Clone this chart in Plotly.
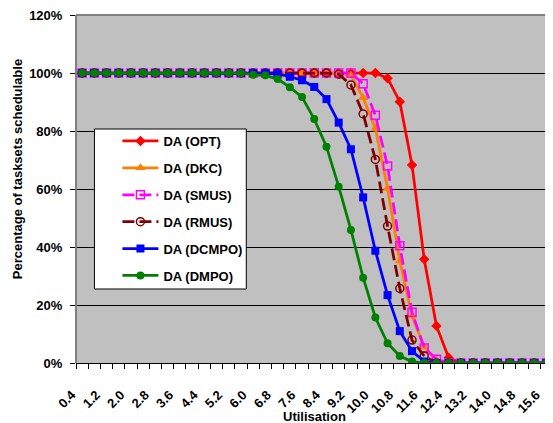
import plotly.graph_objects as go

utilisation = [round(0.4 + 0.4 * i, 1) for i in range(39)]
x_tick_labels = [f"{v:.1f}" for v in utilisation[::2]]

opt = [100] * 25 + [98.2, 90.1, 68.3, 35.8, 12.8, 1.8] + [0] * 8
dkc = [100] * 22 + [99.2, 91.5, 80.9, 60.2, 35.2, 16.2, 5.5, 1.0] + [0] * 9
smus = [100] * 23 + [96.3, 85.4, 67.9, 40.4, 17.5, 5.2, 1.3] + [0] * 9
rmus = [100] * 21 + [99.6, 95.9, 85.9, 70.2, 47.2, 25.7, 7.9, 2.4] + [0] * 10
dcmpo = [100] * 16 + [99.8, 98.7, 97.5, 95.2, 91.0, 82.9, 73.7, 57.1, 38.7, 23.4, 11.0, 4.1, 0.5] + [0] * 10
dmpo = [100] * 14 + [99.4, 99.2, 97.9, 95.1, 91.7, 84.1, 74.6, 60.8, 45.9, 29.4, 15.7, 6.8, 2.4, 0.5] + [0] * 11

y_ticks = [0, 20, 40, 60, 80, 100, 120]

series = [
    ("DA (OPT)", opt, "#FF0000", "diamond", "solid", 8),
    ("DA (DKC)", dkc, "#FF7F00", "triangle-up", "solid", 9),
    ("DA (SMUS)", smus, "#FF00FF", "square-open", "12px,5px", 8),
    ("DA (RMUS)", rmus, "#800000", "circle-open", "12px,5px", 8),
    ("DA (DCMPO)", dcmpo, "#0000FF", "square", "solid", 8),
    ("DA (DMPO)", dmpo, "#008000", "circle", "solid", 8),
]

fig = go.Figure()
for i, (name, vals, col, sym, dash, msize) in enumerate(series):
    fig.add_trace(go.Scatter(
        x=utilisation, y=vals, name=name, mode="lines+markers",
        line=dict(color=col, width=2.75, dash=dash),
        marker=dict(symbol=sym, size=msize, color=col,
                    line=dict(color=col, width=1.5 if "open" in sym else 0)),
        legendgroup=f"g{i}",
    ))

font_family = "Liberation Sans, Arial, sans-serif"
pad = "\u00a0" * 4  # trailing non-breaking spaces nudge the rotated labels like Excel's

# The page body adds an 8px margin, so the figure is 8px smaller than the window.
fig.update_layout(
    width=545, height=415,
    margin=dict(l=68, r=0, t=7, b=60),
    paper_bgcolor="white",
    plot_bgcolor="#C0C0C0",
    font=dict(family=font_family, size=13, color="black"),
    showlegend=True,
    legend=dict(
        x=0.0388, y=0.681, xanchor="left", yanchor="top",
        bgcolor="rgba(0,0,0,0)", borderwidth=0,
        font=dict(family=font_family, size=13, color="black", weight="bold"),
        itemwidth=36, tracegroupgap=7, traceorder="grouped",
        indentation=23,
    ),
    xaxis=dict(
        range=[0.2, 15.75],
        tickmode="array",
        tickvals=utilisation[::2],
        ticktext=[t + pad for t in x_tick_labels],
        tickangle=-45,
        ticks="outside", ticklen=8, tickcolor="rgba(0,0,0,0)",
        ticklabeloverflow="allow",
        tickfont=dict(family=font_family, size=13, color="black", weight="bold"),
        showgrid=False, zeroline=False,
        showline=True, linecolor="black", linewidth=1,
        minor=dict(tick0=0.2, dtick=0.4, ticks="outside", ticklen=5,
                   tickcolor="black", showgrid=False),
    ),
    yaxis=dict(
        range=[0, 120],
        tickmode="array", tickvals=y_ticks,
        ticktext=[f"{v}%" for v in y_ticks],
        ticks="outside", ticklen=5, tickcolor="black",
        ticklabelstandoff=5, ticklabeloverflow="allow",
        tickfont=dict(family=font_family, size=13, color="black", weight="bold"),
        showgrid=True, gridcolor="black", gridwidth=1,
        zeroline=False, showline=False,
    ),
    shapes=[
        dict(type="line", xref="paper", yref="paper", x0=0, x1=1.02, y0=1, y1=1,
             line=dict(color="#808080", width=2), layer="above"),
        dict(type="line", xref="paper", yref="paper", x0=0, x1=0, y0=0, y1=1,
             line=dict(color="#808080", width=2), layer="above"),
        dict(type="rect", xref="paper", yref="paper",
             x0=0.0388, x1=0.3585, y0=0.2126, y1=0.6724,
             fillcolor="white", line=dict(color="black", width=1), layer="above"),
    ],
    annotations=[
        dict(text="<b>Utilisation</b>", xref="paper", yref="paper",
             x=0.503, y=-0.154, xanchor="center", yanchor="middle",
             showarrow=False, font=dict(family=font_family, size=13, color="black")),
        dict(text="<b>Percentage of tasksets schedulable</b>", xref="paper", yref="paper",
             x=-0.1216, y=0.5575, xanchor="center", yanchor="middle", textangle=-90,
             showarrow=False, font=dict(family=font_family, size=13, color="black")),
    ],
)

fig.write_html("out.html")
